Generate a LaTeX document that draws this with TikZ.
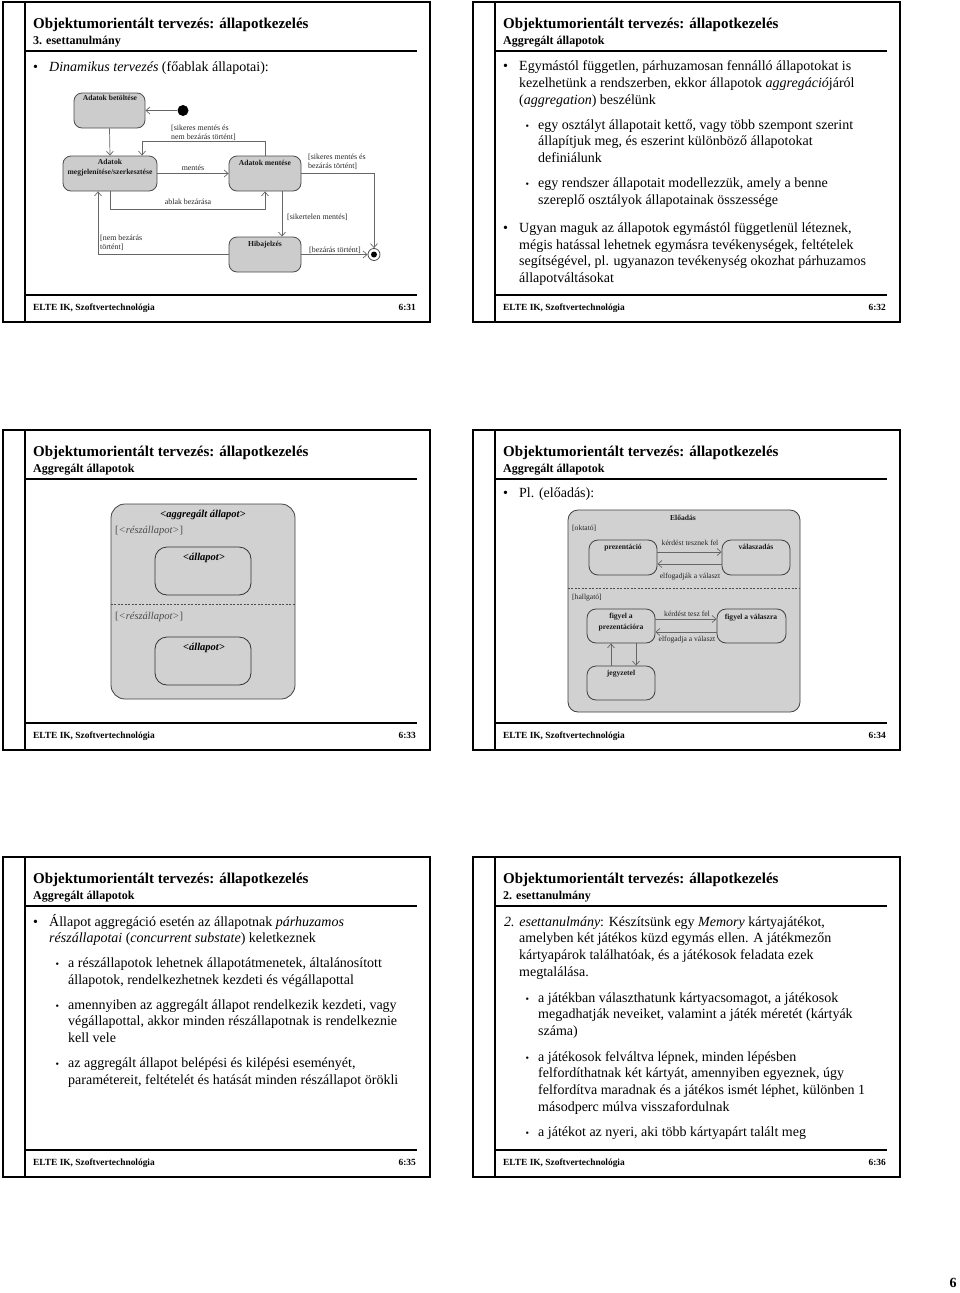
\documentclass[tikz,border=0pt]{standalone}
\usepackage{fontspec}
\setmainfont{Liberation Serif}
\usetikzlibrary{arrows.meta,calc}
\newcommand{\fBody}{\fontsize{14}{16}\selectfont}
\newcommand{\fSBul}{\fontsize{10}{12}\selectfont}
\newcommand{\fTitle}{\fontsize{15}{18}\selectfont\bfseries}
\newcommand{\fSub}{\fontsize{12}{14}\selectfont\bfseries}
\newcommand{\fFoot}{\fontsize{9.4}{11}\selectfont\bfseries}
\newcommand{\fDia}{\fontsize{7.9}{9}\selectfont}
\newcommand{\fDiaS}{\fontsize{7.6}{9}\selectfont}
\newcommand{\fDiaB}{\fontsize{7.6}{9}\selectfont\bfseries}
\newcommand{\fAgg}{\fontsize{10.5}{12}\selectfont}
\newcommand{\fAggB}{\fontsize{10.5}{12}\selectfont\bfseries\itshape}
\newcounter{lnc}
\newcommand{\Ln}[4][]{\stepcounter{lnc}\node[txt,#1] (ln\arabic{lnc}) at (#2,#3) {#4};}
\newcommand{\Bul}[2]{\Ln{#1}{#2}{•}}
\newcommand{\SBul}[2]{\Ln[font=\fSBul]{#1}{#2}{•}}
\tikzset{
  frame/.style={line width=1.8pt, draw=black},
  sepline/.style={line width=1.1pt, draw=black},
  txt/.style={anchor=base west, inner sep=0pt, font=\fBody},
  dlab/.style={anchor=base west, inner sep=0pt, font=\fDia, text=black!85},
  dlabc/.style={anchor=base, inner sep=0pt, font=\fDia, text=black!85},
  slab/.style={anchor=base west, inner sep=0pt, font=\fDiaS, text=black!85},
  slabc/.style={anchor=base, inner sep=0pt, font=\fDiaS, text=black!85},
  blab/.style={anchor=base, inner sep=0pt, font=\fDiaB, text=black!90},
  stbox/.style={draw=black!70, fill=black!20, line width=0.8pt, rounded corners=8pt, inner sep=0pt},
  subbox/.style={draw=black!75, line width=0.8pt, rounded corners=9pt, inner sep=0pt},
  tr/.style={draw=black!60, line width=0.7pt, -{Straight Barb[length=4pt,width=7pt]}},
  divider/.style={draw=black!70, line width=0.7pt, dash pattern=on 2pt off 1.5pt},
}
\newcommand{\Slide}[5]{%
  \begin{scope}[shift={(#1,#2)}]
    \draw[frame] (0,0) rectangle (427,320);
    \draw[sepline] (22,0) -- (22,320);
    \draw[sepline] (22,49) -- (414,49);
    \draw[sepline] (22,293) -- (414,293);
    \node[txt, font=\fTitle] (#5t) at (30,26.5) {Objektumorientált tervezés: állapotkezelés};
    \node[txt, font=\fSub] (#5s) at (30,42.5) {#3};
    \node[txt, font=\fFoot] (#5f) at (30,308) {ELTE IK, Szoftvertechnológia};
    \node[txt, font=\fFoot, anchor=base east] (#5n) at (413,308) {#4};
  \end{scope}}
\begin{document}
\begin{tikzpicture}[x=1pt,y=-1pt]
\fill[white] (0,0) rectangle (960,1293);
\useasboundingbox (0,0) rectangle (960,1293);
\Slide{3}{2}{3. esettanulmány}{6:31}{a}
\Slide{473}{2}{Aggregált állapotok}{6:32}{b}
\Slide{3}{430}{Aggregált állapotok}{6:33}{c}
\Slide{473}{430}{Aggregált állapotok}{6:34}{d}
\Slide{3}{857}{Aggregált állapotok}{6:35}{e}
\Slide{473}{857}{2. esettanulmány}{6:36}{f}

% ---------- slide 6:31 ----------
\Bul{33}{71}
\Ln{49}{71}{\textit{Dinamikus tervezés} (főablak állapotai):}
\node[stbox, minimum width=71pt, minimum height=35pt] (betol) at (109.5,110.5) {};
\node[stbox, minimum width=94pt, minimum height=35pt] (megj) at (110,173.5) {};
\node[stbox, minimum width=72pt, minimum height=35pt] (ment) at (265,173.5) {};
\node[stbox, minimum width=72pt, minimum height=35pt] (hiba) at (265,254.5) {};
\node[circle, fill=black, minimum size=11pt, inner sep=0pt] (init) at (183,110.5) {};
\node[circle, draw=black!70, fill=white, line width=0.8pt, minimum size=12pt, inner sep=0pt] (final) at (374,254.5) {};
\fill[black] (final.center) circle (3pt);
\node[blab] (lb1) at (110,100.5) {Adatok betöltése};
\node[blab] (lb2) at (110,164.5) {Adatok};
\node[blab] (lb3) at (110,174) {megjelenítése/szerkesztése};
\node[blab] (lb4) at (265,165) {Adatok mentése};
\node[blab] (lb5) at (265,246) {Hibajelzés};
\draw[tr] (init) -- (betol.east);
\draw[tr] (betol.south) -- (megj.north);
\draw[tr] (ment.north) -- ++(0,-14) -| ([xshift=32pt]megj.north);
\draw[tr] (megj.east) -- (ment.west);
\draw[tr] (megj.south) -- ++(0,18) -| (ment.south);
\draw[tr] (ment.east) -| (final.north);
\draw[tr] ([xshift=17pt]ment.south) -- ([xshift=17pt]hiba.north);
\draw[tr] (hiba.west) -| ([xshift=-12pt]megj.south);
\draw[tr] (hiba.east) -- (final.west);
\node[dlab] (t1) at (171,130.5) {[sikeres mentés és};
\node[dlab] (t2) at (171,139) {nem bezárás történt]};
\node[dlabc] (t3) at (193,170.5) {mentés};
\node[dlabc] (t4) at (188,204.5) {ablak bezárása};
\node[dlab] (t5) at (308,159.5) {[sikeres mentés és};
\node[dlab] (t6) at (308,168.5) {bezárás történt]};
\node[dlab] (t7) at (287,219.5) {[sikertelen mentés]};
\node[dlab] (t8) at (100,240.5) {[nem bezárás};
\node[dlab] (t9) at (100,249.5) {történt]};
\node[dlab] (t10) at (309,252) {[bezárás történt]};

% ---------- slide 6:32 ----------
\Bul{503}{70.7}
\Ln{519}{70.7}{Egymástól független, párhuzamosan fennálló állapotokat is}
\Ln{519}{87.4}{kezelhetünk a rendszerben, ekkor állapotok \textit{aggregáció}járól}
\Ln{519}{104.1}{(\textit{aggregation}) beszélünk}
\SBul{525.5}{129}
\Ln{538}{129}{egy osztályt állapotait kettő, vagy több szempont szerint}
\Ln{538}{145.7}{állapítjuk meg, és eszerint különböző állapotokat}
\Ln{538}{162.4}{definiálunk}
\SBul{525.5}{187.3}
\Ln{538}{187.3}{egy rendszer állapotait modellezzük, amely a benne}
\Ln{538}{204}{szereplő osztályok állapotainak összessége}
\Bul{503}{232.3}
\Ln{519}{232.3}{Ugyan maguk az állapotok egymástól függetlenül léteznek,}
\Ln{519}{249}{mégis hatással lehetnek egymásra tevékenységek, feltételek}
\Ln{519}{265.7}{segítségével, pl. ugyanazon tevékenység okozhat párhuzamos}
\Ln{519}{282.4}{állapotváltásokat}

% ---------- slide 6:33 ----------
\node[draw=black!75, fill=black!18, line width=0.8pt, rounded corners=14pt, minimum width=184pt, minimum height=195pt, inner sep=0pt] (agg) at (203,601.5) {};
\node[draw=black!80, line width=0.8pt, rounded corners=12pt, minimum width=96pt, minimum height=48pt, inner sep=0pt] (sa) at (203,571) {};
\node[draw=black!80, line width=0.8pt, rounded corners=12pt, minimum width=96pt, minimum height=48pt, inner sep=0pt] (sb) at (203,661) {};
\draw[divider] (agg.west |- 0,604) -- (agg.east |- 0,604);
\node[anchor=base, inner sep=0pt, font=\fAggB] (aggl) at (203,517.5) {<aggregált állapot>};
\node[txt, font=\fAgg, text=black!70] (rsa) at (115,533.5) {[\textit{<részállapot>}]};
\node[txt, font=\fAgg, text=black!70] (rsb) at (115,619.5) {[\textit{<részállapot>}]};
\node[anchor=base, inner sep=0pt, font=\fAggB] (sal) at (204,560.5) {<állapot>};
\node[anchor=base, inner sep=0pt, font=\fAggB] (sbl) at (204,650.5) {<állapot>};

% ---------- slide 6:34 ----------
\Bul{503}{497}
\Ln{519}{497}{Pl. (előadás):}
\node[draw=black!75, fill=black!18, line width=0.8pt, rounded corners=10pt, minimum width=232pt, minimum height=202pt, inner sep=0pt] (ea) at (684,611) {};
\draw[divider] (ea.west |- 0,588) -- (ea.east |- 0,588);
\node[subbox, minimum width=68pt, minimum height=35pt] (prez) at (623,557.5) {};
\node[subbox, minimum width=68pt, minimum height=35pt] (val) at (756,557.5) {};
\node[subbox, minimum width=68pt, minimum height=34pt] (fp) at (621,626) {};
\node[subbox, minimum width=69pt, minimum height=34pt] (fv) at (751.5,626) {};
\node[subbox, minimum width=68pt, minimum height=34pt] (jegy) at (621,683) {};
\draw[tr] ([yshift=5.5pt]prez.east) -- ([yshift=5.5pt]val.west);
\draw[tr] ([yshift=-6.5pt]val.west) -- ([yshift=-6.5pt]prez.east);
\draw[tr] ([yshift=7pt]fp.east) -- ([yshift=7pt]fv.west);
\draw[tr] ([yshift=-6pt]fv.west) -- ([yshift=-6pt]fp.east);
\draw[tr] ([xshift=-10pt]jegy.north) -- ([xshift=-10pt]fp.south);
\draw[tr] ([xshift=15pt]fp.south) -- ([xshift=15pt]jegy.north);
\node[blab] (el) at (683,520.5) {Előadás};
\node[slab] (okt) at (572,530.5) {[oktató]};
\node[blab] (prl) at (623,549.5) {prezentáció};
\node[blab] (vl) at (756,549.5) {válaszadás};
\node[slabc] (k1) at (690,545.5) {kérdést tesznek fel};
\node[slabc] (e1) at (690,578.5) {elfogadják a választ};
\node[slab] (hal) at (572,599.5) {[hallgató]};
\node[blab] (fpl1) at (621,618.5) {figyel a};
\node[blab] (fpl2) at (621,629) {prezentációra};
\node[blab] (fvl) at (751,619.5) {figyel a válaszra};
\node[slabc] (k2) at (687,616.5) {kérdést tesz fel};
\node[slabc] (e2) at (687,641.5) {elfogadja a választ};
\node[blab] (jl) at (621,675.5) {jegyzetel};

% ---------- slide 6:35 ----------
\Bul{33}{926}
\Ln{49}{926}{Állapot aggregáció esetén az állapotnak \textit{párhuzamos}}
\Ln{49}{942.7}{\textit{részállapotai} (\textit{concurrent substate}) keletkeznek}
\SBul{55.5}{967.5}
\Ln{68}{967.5}{a részállapotok lehetnek állapotátmenetek, általánosított}
\Ln{68}{984.2}{állapotok, rendelkezhetnek kezdeti és végállapottal}
\SBul{55.5}{1009}
\Ln{68}{1009}{amennyiben az aggregált állapot rendelkezik kezdeti, vagy}
\Ln{68}{1025.7}{végállapottal, akkor minden részállapotnak is rendelkeznie}
\Ln{68}{1042.4}{kell vele}
\SBul{55.5}{1067.5}
\Ln{68}{1067.5}{az aggregált állapot belépési és kilépési eseményét,}
\Ln{68}{1084.2}{paramétereit, feltételét és hatását minden részállapot örökli}

% ---------- slide 6:36 ----------
\Ln{504}{926}{\textit{2. esettanulmány}: Készítsünk egy \textit{Memory} kártyajátékot,}
\Ln{519}{942.7}{amelyben két játékos küzd egymás ellen. A játékmezőn}
\Ln{519}{959.4}{kártyapárok találhatóak, és a játékosok feladata ezek}
\Ln{519}{976.1}{megtalálása.}
\SBul{525.5}{1002}
\Ln{538}{1002}{a játékban választhatunk kártyacsomagot, a játékosok}
\Ln{538}{1018.7}{megadhatják neveiket, valamint a játék méretét (kártyák}
\Ln{538}{1035.4}{száma)}
\SBul{525.5}{1061}
\Ln{538}{1061}{a játékosok felváltva lépnek, minden lépésben}
\Ln{538}{1077.7}{felfordíthatnak két kártyát, amennyiben egyeznek, úgy}
\Ln{538}{1094.4}{felfordítva maradnak és a játékos ismét léphet, különben 1}
\Ln{538}{1111.1}{másodperc múlva visszafordulnak}
\SBul{525.5}{1136}
\Ln{538}{1136}{a játékot az nyeri, aki több kártyapárt talált meg}

% page number
\node[anchor=base, inner sep=0pt, font=\fontsize{14}{16}\selectfont\bfseries] (pg) at (953,1287) {6};
\end{tikzpicture}
\end{document}
